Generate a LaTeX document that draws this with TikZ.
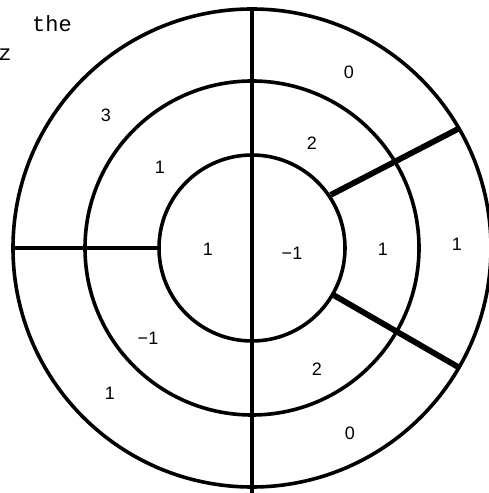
\documentclass[tikz,border=0pt]{standalone}
\usepackage{fontspec}
\setmainfont{Liberation Sans}
\newfontfamily\monofont{Liberation Mono}
\usetikzlibrary{calc}
\begin{document}
\begin{tikzpicture}[x=1pt,y=1pt,
  ring/.style={line width=3.6pt},
  sep/.style={line width=3.6pt},
  thicksep/.style={line width=5.8pt},
  val/.style={font=\fontsize{18}{18}\selectfont, inner sep=0pt},
  mono/.style={font=\monofont\fontsize{22}{22}\selectfont, inner sep=0pt}]
\useasboundingbox (0,0) rectangle (488,493);
\coordinate (O) at (252,245);
\draw[ring] (O) circle (239);
\draw[ring] (O) circle (167);
\draw[ring] (O) circle (93);
\coordinate (vt) at ($(O)+(90:239)$);
\coordinate (vb) at (252,-5);
\draw[sep] (vt) -- (vb);
\coordinate (hl) at ($(O)+(180:239)$);
\coordinate (hr) at ($(O)+(180:93)$);
\draw[sep] (hl) -- (hr);
\coordinate (ui) at ($(O)+(34:95)$);
\coordinate (uo) at ($(O)+(30:240)$);
\draw[thicksep] (ui) -- (uo);
\coordinate (li) at ($(O)+(-30:94)$);
\coordinate (lo) at ($(O)+(-30:240)$);
\draw[thicksep] (li) -- (lo);
\node[mono] (t1) at (52,469) {the};
\node[mono] (t2) at (5,438) {z};
\node[val] (a) at (106,378) {3};
\node[val] (b) at (160,326) {1};
\node[val] (c) at (208,244) {1};
\node[val] (d) at (292,240) {−1};
\node[val] (e) at (383,244) {1};
\node[val] (f) at (457,249) {1};
\node[val] (g) at (349,421) {0};
\node[val] (h) at (312,350) {2};
\node[val] (i) at (317,124) {2};
\node[val] (j) at (350,60) {0};
\node[val] (k) at (148,155) {−1};
\node[val] (l) at (110,100) {1};
\end{tikzpicture}
\end{document}
